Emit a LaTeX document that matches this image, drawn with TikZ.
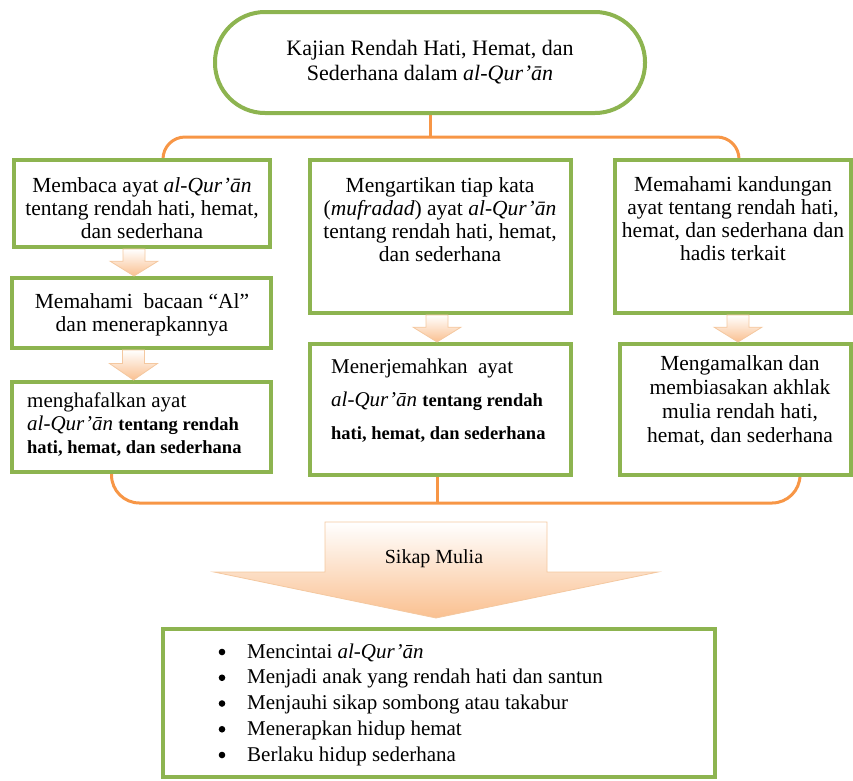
\documentclass[tikz,border=0pt]{standalone}
\usepackage{fontspec}
\setmainfont{Liberation Serif}
\usetikzlibrary{calc}
\definecolor{boxgreen}{RGB}{141,180,80}
\definecolor{linkorange}{RGB}{247,150,70}
\definecolor{peach}{RGB}{250,192,144}
\definecolor{peachline}{RGB}{244,200,160}
\newcommand{\smallblockarrow}[3]{%
  \shadedraw[barrow] let \p1=($(#1.south)+(#3,0)$), \p2=($(#2.north)+(#3,0)$),
    \p3=($(\p1)!0.45!(\p2)$) in
   (\x1-11pt,\y1) -- (\x1+11pt,\y1) -- (\x1+11pt,\y3) -- (\x1+24pt,\y3)
   -- (\x1,\y2) -- (\x1-24pt,\y3) -- (\x1-11pt,\y3) -- cycle;}
\newcommand{\boldpart}[1]{{\fontsize{18.5}{23}\selectfont\bfseries #1}}
\begin{document}
\begin{tikzpicture}[x=1pt,y=-1pt,
  gbox/.style={draw=boxgreen, line width=4pt, fill=white, inner sep=0pt},
  link/.style={draw=linkorange, line width=3pt},
  txt/.style={font=\fontsize{21.5}{23}\selectfont, align=center, inner sep=0pt},
  ltxt/.style={font=\fontsize{21}{23}\selectfont, align=left, inner sep=0pt, anchor=west},
  barrow/.style={top color=white, bottom color=peach, draw=peachline, line width=0.8pt},
  bulletdot/.style={fill=black, radius=3.3}]
\useasboundingbox (0,0) rectangle (853,780);

% connectors first
\coordinate (topjoin) at (430,137);
\coordinate (bracketL) at (163,160);
\coordinate (bracketR) at (739,160);
\coordinate (botL) at (111.5,472);
\coordinate (botR) at (800,475);
\coordinate (botjoin) at (437,503);
\draw[link] (430,113) -- (topjoin);
\draw[link, rounded corners=22] (bracketL) |- (topjoin) -| (bracketR);
\draw[link, rounded corners=28] (botL) |- (botjoin) -| (botR);
\draw[link] (437,475) -- (botjoin);

% top title
\node[gbox, rounded corners=50pt, minimum width=430pt, minimum height=101pt,
  font=\fontsize{22}{25}\selectfont, align=center] (S) at (430,62.5)
  {Kajian Rendah Hati,\ Hemat,\ dan\\Sederhana dalam \textit{al-Qur’ān}};

% boxes
\node[gbox, minimum width=256pt, minimum height=87pt] (L1) at (142,203.5) {};
\node[gbox, minimum width=259pt, minimum height=70pt] (L2) at (141.5,313) {};
\node[gbox, minimum width=259pt, minimum height=90pt] (L3) at (141.5,427) {};
\node[gbox, minimum width=261pt, minimum height=153pt] (M1) at (440.5,236.5) {};
\node[gbox, minimum width=261pt, minimum height=131pt] (M2) at (440.5,409.5) {};
\node[gbox, minimum width=236pt, minimum height=153pt] (R1) at (733,236.5) {};
\node[gbox, minimum width=231pt, minimum height=131pt] (R2) at (735.5,409.5) {};
\node[gbox, minimum width=552pt, minimum height=148pt] (B) at (439,703) {};

% texts
\node[txt] (L1t) at (142,208) {Membaca ayat \textit{al-Qur’ān}\\tentang rendah hati, hemat,\\dan sederhana};
\node[txt] (L2t) at (142,314.5) {Memahami\ \ bacaan “Al”\\dan menerapkannya};
\node[ltxt] (L3t) at (27,425) {menghafalkan ayat\\\textit{al-Qur’ān} \boldpart{tentang rendah}\\\boldpart{hati, hemat, dan sederhana}};
\node[txt] (M1t) at (440,220) {Mengartikan tiap kata\\(\textit{mufradad}) ayat \textit{al-Qur’ān}\\tentang rendah hati, hemat,\\dan sederhana};
\node[ltxt, font=\fontsize{21}{33}\selectfont] (M2t) at (331,401) {Menerjemahkan\ \ ayat\\\textit{al-Qur’ān} \boldpart{tentang rendah}\\\boldpart{hati, hemat, dan sederhana}};
\node[txt] (R1t) at (733,219) {Memahami kandungan\\ayat tentang rendah hati,\\hemat, dan sederhana dan\\hadis terkait};
\node[txt, font=\fontsize{21.5}{24}\selectfont] (R2t) at (740,401) {Mengamalkan dan\\membiasakan akhlak\\mulia rendah hati,\\hemat, dan sederhana};

% small block arrows
\smallblockarrow{L1}{L2}{-8}
\smallblockarrow{L2}{L3}{-8}
\smallblockarrow{M1}{M2}{-3.5}
\smallblockarrow{R1}{R2}{5}

% big arrow
\shadedraw[barrow] (325,522) -- (547,522) -- (547,572) -- (658,572) -- (436,618)
  -- (214,572) -- (325,572) -- cycle;
\node[txt, font=\fontsize{20}{23}\selectfont] (SM) at (434,559) {Sikap Mulia};

% bullet list
\node[ltxt, font=\fontsize{21}{25.75}\selectfont] (list) at (247,704.5)
  {Mencintai \textit{al-Qur’ān}\\
   Menjadi anak yang rendah hati dan santun\\
   Menjauhi sikap sombong atau takabur\\
   Menerapkan hidup hemat\\
   Berlaku hidup sederhana};
\foreach \by in {652,677.75,703.5,729.25,755}
  \fill[bulletdot] (222,\by) circle;
\end{tikzpicture}
\end{document}
